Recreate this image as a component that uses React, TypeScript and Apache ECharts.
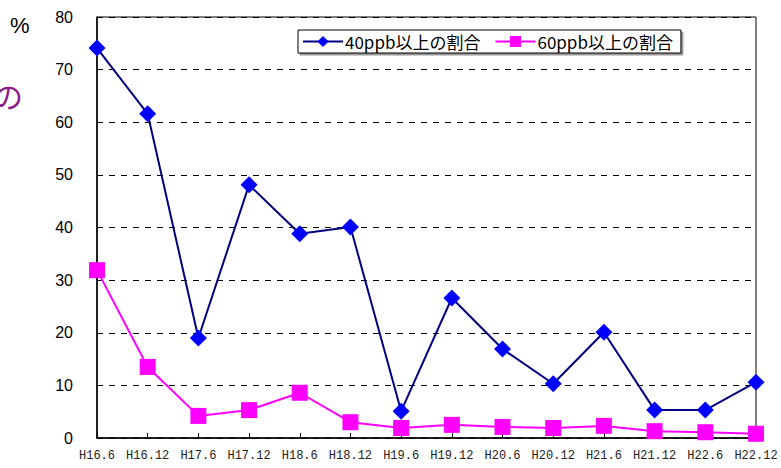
import React, { useEffect, useRef } from "react";
import * as echarts from "echarts";

const categories = ["H16.6", "H16.12", "H17.6", "H17.12", "H18.6", "H18.12", "H19.6", "H19.12", "H20.6", "H20.12", "H21.6", "H21.12", "H22.6", "H22.12"];
const over40 = [74.1, 61.6, 19.0, 48.1, 38.8, 40.1, 5.1, 26.6, 16.9, 10.3, 20.1, 5.3, 5.3, 10.6];
const over60 = [31.9, 13.5, 4.2, 5.3, 8.6, 3.0, 1.9, 2.5, 2.1, 1.9, 2.3, 1.3, 1.1, 0.8];
const seriesNames = ["40ppb以上の割合", "60ppb以上の割合"];

const SANS = "Liberation Sans, Arial, sans-serif";

export default function App() {
  const ref = useRef<HTMLDivElement>(null);
  useEffect(() => {
    if (!ref.current) return;
    const chart = echarts.init(ref.current, null, { renderer: "svg" });
    chart.setOption({
      animation: false,
      backgroundColor: "#fff",
      textStyle: { fontFamily: SANS },
      graphic: [
        { type: "text", left: 10, top: 14, style: { text: "%", fontFamily: SANS, fontSize: 22, fill: "#000" } },
        { type: "text", left: -7, top: 80, style: { text: "の", fontFamily: "Noto Sans CJK JP, sans-serif", fontSize: 30, fill: "#8B1A8B" } },
      ],
      legend: {
        left: 298,
        top: 30,
        orient: "horizontal",
        data: seriesNames,
        backgroundColor: "#fff",
        borderColor: "#000",
        borderWidth: 1,
        padding: [3, 8, 3, 4],
        itemGap: 14,
        itemWidth: 40,
        itemHeight: 14,
        shadowColor: "rgba(0,0,0,0.4)",
        shadowOffsetX: 2,
        shadowOffsetY: 2,
        shadowBlur: 0,
        textStyle: { fontSize: 17, color: "#000", fontFamily: "Noto Sans CJK JP, Liberation Sans, sans-serif", padding: [0, 0, 0, -3] },
      },
      grid: {
        left: 97,
        right: 25,
        top: 17,
        bottom: 30,
        show: true,
        borderColor: "#000",
        borderWidth: 1,
      },
      xAxis: {
        type: "category",
        data: categories,
        boundaryGap: false,
        axisLine: { lineStyle: { color: "#000", width: 1.5 } },
        axisTick: { inside: true, length: 5, alignWithLabel: true, lineStyle: { color: "#000" } },
        axisLabel: { fontFamily: "Liberation Mono, monospace", fontSize: 12, color: "#222", margin: 12, interval: 0 },
        splitLine: { show: false },
      },
      yAxis: {
        type: "value",
        min: 0,
        max: 80,
        interval: 10,
        axisLine: { show: true, lineStyle: { color: "#000", width: 1.5 } },
        axisTick: { show: true, inside: true, length: 5, lineStyle: { color: "#000" } },
        axisLabel: { fontFamily: SANS, fontSize: 16, color: "#000", margin: 24 },
        splitLine: { show: true, lineStyle: { color: "#000", type: [6, 6], width: 1 } },
      },
      series: [
        {
          name: seriesNames[0],
          type: "line",
          data: over40,
          symbol: "diamond",
          symbolSize: 17,
          itemStyle: { color: "#0000FF" },
          lineStyle: { color: "#000080", width: 2 },
          z: 3,
        },
        {
          name: seriesNames[1],
          type: "line",
          data: over60,
          symbol: "rect",
          symbolSize: 16,
          itemStyle: { color: "#FF00FF" },
          lineStyle: { color: "#FF00FF", width: 2 },
          z: 2,
        },
      ],
    });
    return () => chart.dispose();
  }, []);
  return <div ref={ref} style={{ width: 781, height: 468, position: "absolute", left: 0, top: 0 }} />;
}
